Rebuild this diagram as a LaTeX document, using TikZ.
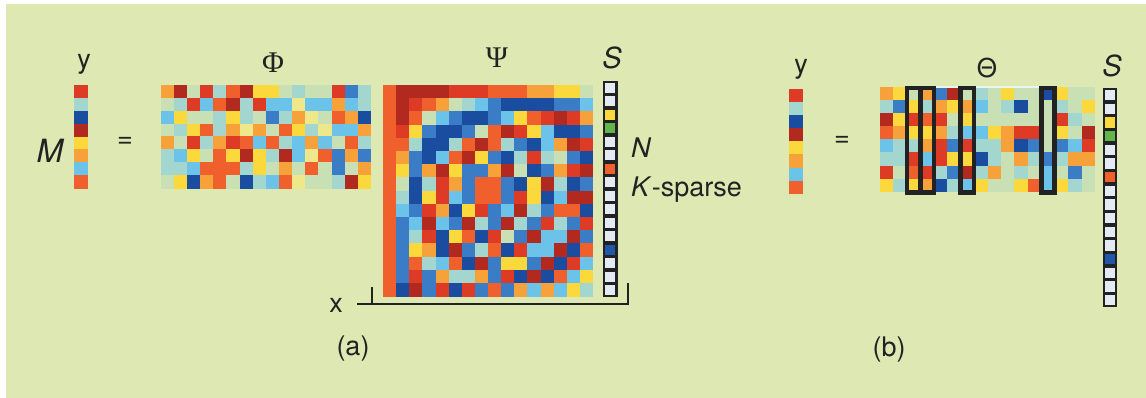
\documentclass[tikz,border=0pt]{standalone}
\usepackage{fontspec}
\setmainfont{TeX Gyre Heros}
\newfontfamily\grkserif{Liberation Serif}
\definecolor{bgc}{HTML}{DDE8B2}
\definecolor{cD}{HTML}{B22A1F}
\definecolor{cR}{HTML}{DE3B26}
\definecolor{cO}{HTML}{F0602C}
\definecolor{cA}{HTML}{F7A13B}
\definecolor{cY}{HTML}{FBD83C}
\definecolor{cP}{HTML}{EFE88A}
\definecolor{cG}{HTML}{C8E0B4}
\definecolor{cT}{HTML}{A4D6D0}
\definecolor{cL}{HTML}{6CC3EA}
\definecolor{cB}{HTML}{3B7CC6}
\definecolor{cK}{HTML}{1A4D9F}
\definecolor{cW}{HTML}{E4EAF4}
\definecolor{cN}{HTML}{62B44C}
\definecolor{cZ}{HTML}{1F58AA}
\definecolor{ink}{HTML}{222222}
\newcommand{\drawmat}[5]{%
  \foreach \mrow [count=\j from 0] in {#5} {
    \foreach \mcol [count=\i from 0] in \mrow {
      \fill[fill=c\mcol] ({#1+\i*#3},{#2+\j*#4}) rectangle ++({#3+0.35},{#4+0.35});
    }
  }%
}
\newcommand{\svec}[5]{%
  \fill[ink] (#1,#2) rectangle (#3,#4);
  \pgfmathsetmacro\sh{(#4-#2)/16}
  \foreach \mcol [count=\i from 0] in {#5} {
    \fill[fill=c\mcol] ({#1+2.4},{#2+1.7+\i*\sh}) rectangle ({#3-2.4},{#2+(\i+1)*\sh-1.7});
  }%
}
\tikzset{
  lbl/.style={inner sep=0pt, text=ink, font=\fontsize{27}{30}\selectfont},
  ilbl/.style={lbl, font=\fontsize{27}{30}\selectfont\itshape},
  big/.style={lbl, font=\fontsize{32}{36}\selectfont\itshape},
  slbl/.style={lbl, font=\fontsize{29}{32}\selectfont\itshape},
  thlbl/.style={lbl, font=\fontsize{26}{30}\selectfont},
  grk/.style={inner sep=0pt, text=ink, font=\fontsize{30}{34}\selectfont\grkserif},
  brk/.style={draw=ink, line width=2.2pt},
  sel/.style={draw=ink, line width=4.5pt}
}
\begin{document}
\begin{tikzpicture}[x=1pt,y=-1pt]
\useasboundingbox (0,0) rectangle (1146,398);
\fill[white] (0,0) rectangle (1146,398);
\fill[bgc] (6,4) rectangle (1146,398);

% ---------- (a) ----------
\node[lbl] (ya) at (84,64) {y};
\drawmat{74}{85}{14}{12.9}{{R},{T},{K},{D},{Y},{A},{L},{O}}
\node[big] (M) at (50,151) {M};
\node[lbl] (eqa) at (125,142) {=};

\node[grk] (phil) at (273,63) {Φ};
\drawmat{160.7}{84.7}{13.14}{12.95}{%
{A,D,G,R,T,O,D,Y,Y,G,T,G,G,R,B,T},
{G,T,R,L,O,D,T,R,L,L,P,L,L,A,L,T},
{L,Y,G,G,T,Y,T,G,B,T,A,P,G,O,A,K},
{G,T,Y,O,T,A,P,A,G,O,Y,T,P,L,L,A},
{A,G,R,T,A,R,O,L,O,T,L,A,L,G,O,T},
{T,L,Y,G,O,Y,D,Y,T,D,L,P,O,B,A,B},
{T,T,L,O,O,O,T,Y,G,A,G,O,G,B,G,A},
{G,Y,K,A,O,G,K,T,L,O,P,G,G,T,D,Y}}

\node[grk] (psil) at (497,58) {Ψ};
\drawmat{383}{85}{13.13}{13.2}{%
{O,D,D,D,D,R,R,R,O,O,O,A,A,Y,Y,G},
{O,D,R,O,A,G,T,L,B,K,K,K,K,B,B,L},
{O,D,O,G,L,B,K,K,B,L,Y,O,R,D,R,A},
{O,R,Y,B,K,K,B,G,O,D,R,Y,L,K,K,B},
{O,O,T,K,K,T,O,D,O,T,B,K,L,A,D,R},
{O,A,B,K,L,O,D,Y,B,K,T,R,T,G,B,K},
{O,Y,B,A,D,Y,B,B,A,D,G,K,B,A,R,D},
{O,G,K,T,R,A,B,O,O,B,K,Y,D,T,K,B},
{O,T,K,Y,R,L,B,O,O,B,R,Y,K,L,D,D},
{O,L,B,R,A,K,Y,R,B,L,D,T,B,O,O,K},
{O,B,L,D,L,B,D,T,B,D,T,B,R,T,B,R},
{O,B,T,R,K,Y,O,K,R,G,B,D,L,L,D,B},
{O,B,Y,A,K,D,B,T,O,K,R,L,L,D,K,O},
{O,B,O,T,L,O,K,D,B,Y,Y,B,D,K,R,L},
{O,B,R,B,A,T,T,A,B,R,K,D,K,O,L,Y},
{O,K,D,B,R,K,R,B,O,B,A,L,A,L,Y,T}}

\node[slbl] (sa) at (612,58) {S};
\svec{603}{81}{617.6}{297}{W,W,Y,N,W,W,O,W,W,W,W,W,Z,W,W,W}
\node[ilbl, anchor=base west] (N) at (631,158) {N};
\node[lbl, anchor=base west] (ks) at (631,197) {\textit{K}-sparse};

\coordinate (bl) at (357,304);
\coordinate (br) at (628,304);
\coordinate (brt) at (628,283);
\coordinate (tl) at (372,287);
\coordinate (tlb) at (372,304);
\draw[brk] (bl) -- (br) -- (brt);
\draw[brk] (tl) -- (tlb);
\node[lbl] (xl) at (336,305) {x};
\node[lbl] (capa) at (353,349) {(a)};

% ---------- (b) ----------
\node[lbl] (yb) at (801,69) {y};
\drawmat{789}{89}{14}{13.1}{{R},{T},{K},{D},{Y},{A},{L},{O}}
\node[lbl] (eqb) at (842,141) {=};

\node[thlbl] (thl) at (987,68) {Θ};
\drawmat{880}{87}{13.44}{13.1}{%
{A,Y,G,A,B,D,G,T,G,Y,G,G,K,Y,G,G},
{T,B,Y,T,A,Y,A,L,G,T,K,G,G,T,G,Y},
{D,Y,R,O,R,G,Y,G,G,G,G,G,G,R,T,G},
{O,A,Y,Y,A,T,L,L,Y,A,R,R,G,Y,G,D},
{L,T,T,A,R,B,R,T,T,A,K,B,G,B,L,R},
{T,T,R,L,R,Y,Y,K,T,G,A,T,B,T,A,A},
{R,G,O,R,T,B,D,T,A,G,T,G,L,G,B,G},
{Y,T,Y,A,K,T,L,Y,G,G,Y,O,L,Y,T,G}}
\fill[white!75!cT] (934,86) rectangle (1040,88.3);
\coordinate (r1a) at (906.9,88);
\coordinate (r1b) at (933.8,192.5);
\coordinate (r1t) at (920.3,88);
\coordinate (r1m) at (920.3,192.5);
\coordinate (r2a) at (960.6,88);
\coordinate (r2b) at (974.0,192.5);
\coordinate (r3a) at (1041.3,88);
\coordinate (r3b) at (1054.7,192.5);
\draw[sel] (r1a) rectangle (r1b);
\draw[sel] (r1t) -- (r1m);
\draw[sel] (r2a) rectangle (r2b);
\draw[sel] (r3a) rectangle (r3b);

\node[slbl] (sb) at (1112,66) {S};
\svec{1102.7}{88.3}{1117.3}{307}{W,W,Y,N,W,W,O,W,W,W,W,W,Z,W,W,W}
\node[lbl] (capb) at (889,350) {(b)};
\end{tikzpicture}
\end{document}
